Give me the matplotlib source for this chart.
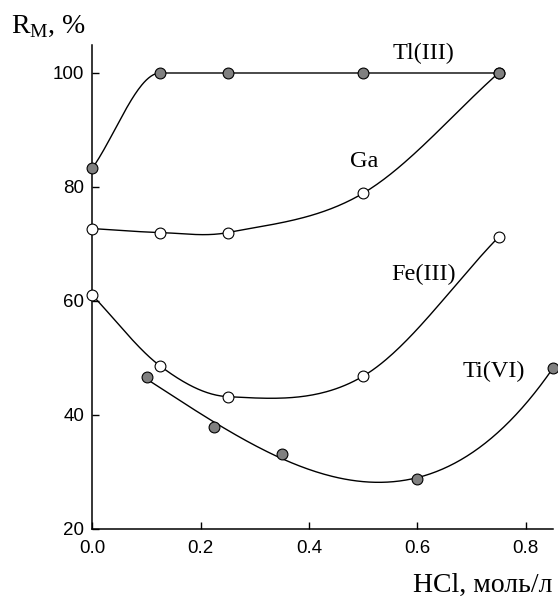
import numpy as np
import matplotlib
matplotlib.use('Agg')
import matplotlib.pyplot as plt

# данные
x_tl = [0.0, 0.125, 0.25, 0.5, 0.75]
y_tl = [83.3, 100.0, 100.0, 100.0, 100.0]

x_ga = [0.0, 0.125, 0.25, 0.5, 0.75]
y_ga = [72.7, 72.0, 72.0, 78.9, 100.0]

x_fe = [0.0, 0.125, 0.25, 0.5, 0.75]
y_fe = [61.0, 48.6, 43.2, 46.8, 71.2]

x_ti = [0.1, 0.225, 0.35, 0.6, 0.85]
y_ti = [46.6, 37.8, 33.2, 28.7, 48.2]

x_ticks = [0.0, 0.2, 0.4, 0.6, 0.8]
y_ticks = [20, 40, 60, 80, 100]

serif = 'Liberation Serif'
sans = 'Liberation Sans'


def smooth(x, y, monotone=False, n=60):
    # кубическая эрмитова кривая через точки
    x = np.asarray(x, float)
    y = np.asarray(y, float)
    sl = np.diff(y) / np.diff(x)
    m = np.zeros_like(y)
    m[0], m[-1] = sl[0], sl[-1]
    for i in range(1, len(x) - 1):
        if monotone:
            m[i] = 0.0 if sl[i - 1] * sl[i] <= 0 else 0.5 * (sl[i - 1] + sl[i])
        else:
            m[i] = (y[i + 1] - y[i - 1]) / (x[i + 1] - x[i - 1])
    xs, ys = [], []
    for i in range(len(x) - 1):
        h = x[i + 1] - x[i]
        t = np.linspace(0, 1, n)
        h00 = 2 * t**3 - 3 * t**2 + 1
        h10 = t**3 - 2 * t**2 + t
        h01 = -2 * t**3 + 3 * t**2
        h11 = t**3 - t**2
        xs.append(x[i] + t * h)
        ys.append(h00 * y[i] + h10 * h * m[i] + h01 * y[i + 1] + h11 * h * m[i + 1])
    return np.concatenate(xs), np.concatenate(ys)


fig = plt.figure(figsize=(5.58, 6.01), dpi=100)
ax = fig.add_axes([0.1655, 0.12, 0.826, 0.805])

lw = 1.0
mk = dict(marker='o', markersize=7.8, markeredgecolor='black', markeredgewidth=0.8,
          linestyle='none', clip_on=False, zorder=3)

# кривые
xs, ys = smooth(x_ga, y_ga)
ax.plot(xs, ys, color='black', lw=lw)
xs, ys = smooth(x_fe, y_fe)
ax.plot(xs, ys, color='black', lw=lw)
xs, ys = smooth(x_tl, y_tl, monotone=True)
ax.plot(xs, ys, color='black', lw=lw)
coef = np.polyfit(x_ti, y_ti, 3)
xt = np.linspace(x_ti[0], x_ti[-1], 200)
ax.plot(xt, np.polyval(coef, xt), color='black', lw=lw, clip_on=False)

# точки
ax.plot(x_ga, y_ga, markerfacecolor='white', **mk)
ax.plot(x_fe, y_fe, markerfacecolor='white', **mk)
ax.plot(x_tl, y_tl, markerfacecolor='#808080', **mk)
ax.plot(x_ti, y_ti, markerfacecolor='#808080', **mk)

# подписи кривых
lab = dict(fontsize=17.5, family=serif, ha='center', va='center')
ax.text(0.611, 103.5, 'Tl(III)', **lab)
ax.text(0.502, 84.4, 'Ga', **lab)
ax.text(0.612, 64.6, 'Fe(III)', **lab)
ax.text(0.741, 47.7, 'Ti(VI)', **lab)

ax.set_xlim(0, 0.851)
ax.set_ylim(20, 104.9)
ax.set_xticks(x_ticks)
ax.set_yticks(y_ticks)
ax.set_xticklabels(['%.1f' % v for v in x_ticks], family=sans, fontsize=13.5)
ax.set_yticklabels([str(v) for v in y_ticks], family=sans, fontsize=13.5)
ax.tick_params(direction='in', length=5, width=1, pad=6)
ax.tick_params(axis='x', pad=8)
for s in ['top', 'right']:
    ax.spines[s].set_visible(False)
for s in ['left', 'bottom']:
    ax.spines[s].set_linewidth(1.1)

fig.text(0.02, 0.945, r'R$_\mathregular{M}$, %', family=serif, fontsize=20, ha='left', va='baseline')
fig.text(0.991, 0.015, 'HCl, моль/л', family=serif, fontsize=20, ha='right', va='baseline')

fig.savefig('out.png', dpi=100)
